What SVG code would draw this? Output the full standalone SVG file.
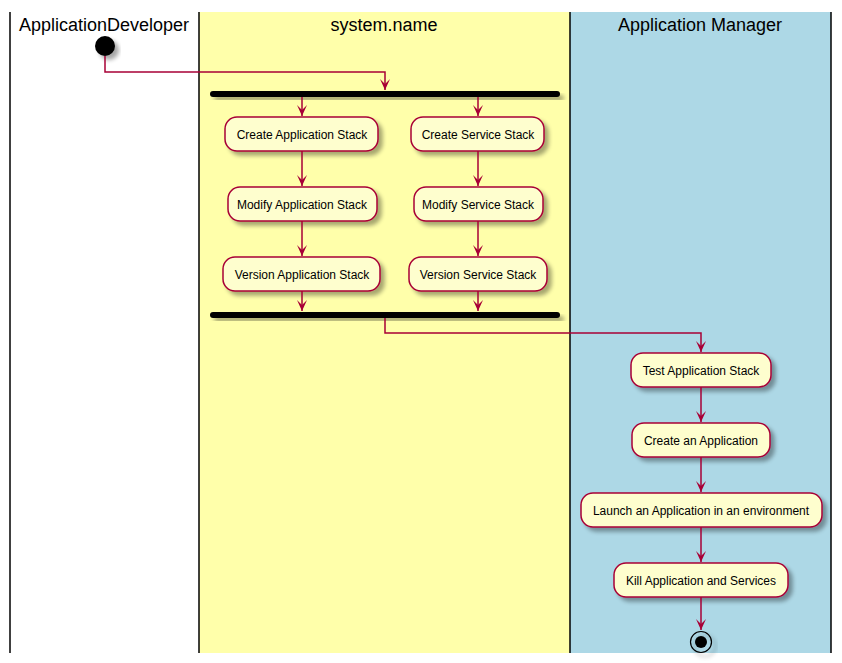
<svg xmlns="http://www.w3.org/2000/svg" width="842" height="663" viewBox="0 0 842 663">
<defs>
<filter id="sh" x="-20%" y="-20%" width="150%" height="160%">
<feGaussianBlur in="SourceAlpha" stdDeviation="2"/>
<feOffset dx="4" dy="4" result="b"/>
<feComponentTransfer><feFuncA type="linear" slope="0.35"/></feComponentTransfer>
<feMerge><feMergeNode/><feMergeNode in="SourceGraphic"/></feMerge>
</filter>
<marker id="ah" viewBox="0 0 12 12" refX="11" refY="6" markerWidth="12" markerHeight="12" markerUnits="userSpaceOnUse" orient="auto">
<path d="M0,1 L11,6 L0,11 L5,6 Z" fill="#A80036"/>
</marker>
</defs>
<style>
.lane{stroke:none}
.ll{stroke:#000;stroke-width:1.5}
.title{font-family:"Liberation Sans",Arial,sans-serif;font-size:18px;fill:#000;text-anchor:middle}
.node rect{fill:#FEFECE;stroke:#A80036;stroke-width:1.5;filter:url(#sh)}
.node text{font-family:"Liberation Sans",Arial,sans-serif;font-size:12px;fill:#000;text-anchor:middle}
.bar{fill:#000;filter:url(#sh)}
#connectors path{fill:none;stroke:#A80036;stroke-width:1.5}
</style>
<rect width="842" height="663" fill="#fff"/>
<g id="lanes">
<rect class="lane" x="199" y="12" width="371" height="641" fill="#FFFFAA"/>
<rect class="lane" x="570" y="12" width="261" height="641" fill="#ADD8E6"/>
<line class="ll" x1="10" y1="12" x2="10" y2="653"/>
<line class="ll" x1="199" y1="12" x2="199" y2="653"/>
<line class="ll" x1="570" y1="12" x2="570" y2="653"/>
<line class="ll" x1="831" y1="12" x2="831" y2="653"/>
<text class="title" x="104" y="31">ApplicationDeveloper</text>
<text class="title" x="384" y="31">system.name</text>
<text class="title" x="700" y="31">Application Manager</text>
</g>
<g id="start"><circle cx="105" cy="46" r="10" fill="#000" filter="url(#sh)"/></g>
<g id="fork"><rect class="bar" x="210" y="91" width="350" height="6" rx="3"/></g>
<g id="join"><rect class="bar" x="210" y="312" width="350" height="6" rx="3"/></g>
<g id="n1" class="node"><rect x="225" y="117" width="153" height="34" rx="12"/><text x="302" y="139">Create Application Stack</text></g>
<g id="n2" class="node"><rect x="411" y="117" width="133" height="34" rx="12"/><text x="478" y="139">Create Service Stack</text></g>
<g id="n3" class="node"><rect x="228" y="187" width="149" height="34" rx="12"/><text x="302" y="209">Modify Application Stack</text></g>
<g id="n4" class="node"><rect x="414" y="187" width="129" height="34" rx="12"/><text x="478" y="209">Modify Service Stack</text></g>
<g id="n5" class="node"><rect x="223" y="257" width="157" height="34" rx="12"/><text x="302" y="279">Version Application Stack</text></g>
<g id="n6" class="node"><rect x="409" y="257" width="138" height="34" rx="12"/><text x="478" y="279">Version Service Stack</text></g>
<g id="n7" class="node"><rect x="631" y="353" width="140" height="34" rx="12"/><text x="701" y="375">Test Application Stack</text></g>
<g id="n8" class="node"><rect x="632" y="423" width="138" height="34" rx="12"/><text x="701" y="445">Create an Application</text></g>
<g id="n9" class="node"><rect x="581" y="493" width="241" height="34" rx="12"/><text x="701" y="515">Launch an Application in an environment</text></g>
<g id="n10" class="node"><rect x="614" y="563" width="174" height="34" rx="12"/><text x="701" y="585">Kill Application and Services</text></g>
<g id="end"><circle cx="701" cy="642" r="10.5" fill="none" stroke="#000" stroke-width="1.2" filter="url(#sh)"/><circle cx="701" cy="642" r="6" fill="#000"/></g>
<g id="connectors">
<path d="M105,56 V72 H385 V90" marker-end="url(#ah)"/>
<path d="M302,97 V116" marker-end="url(#ah)"/>
<path d="M478,97 V116" marker-end="url(#ah)"/>
<path d="M302,151 V186" marker-end="url(#ah)"/>
<path d="M478,151 V186" marker-end="url(#ah)"/>
<path d="M302,221 V256" marker-end="url(#ah)"/>
<path d="M478,221 V256" marker-end="url(#ah)"/>
<path d="M302,291 V311" marker-end="url(#ah)"/>
<path d="M478,291 V311" marker-end="url(#ah)"/>
<path d="M385,318 V333 H701 V352" marker-end="url(#ah)"/>
<path d="M701,387 V422" marker-end="url(#ah)"/>
<path d="M701,457 V492" marker-end="url(#ah)"/>
<path d="M701,527 V562" marker-end="url(#ah)"/>
<path d="M701,597 V630" marker-end="url(#ah)"/>
</g>
</svg>
